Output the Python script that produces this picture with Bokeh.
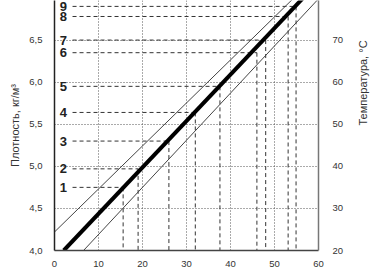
import math
from bokeh.plotting import figure
from bokeh.models import Range1d, LinearAxis, FixedTicker, CustomJSTickFormatter
from bokeh.core.properties import value
from bokeh.embed import file_html
from bokeh.resources import INLINE

# ---- data ----
x_ticks = [0, 10, 20, 30, 40, 50, 60]
rho_ticks = [4.0, 4.5, 5.0, 5.5, 6.0, 6.5, 7.0]
temp_ticks = [20, 30, 40, 50, 60, 70, 80]

# main (thick) line and two bounding (thin) lines, endpoints
main_x = [2.1, 56.5]
main_rho = [4.0, 7.0]
upper_x = [0.0, 54.4]
upper_rho = [4.22, 7.0]
lower_x = [6.6, 60.0]
lower_rho = [4.0, 6.99]

# numbered reading levels: density level and where it meets the main line
level_names = ["1", "2", "3", "4", "5", "6", "7", "8", "9"]
level_rho = [4.75, 4.97, 5.30, 5.64, 5.95, 6.35, 6.50, 6.78, 6.90]
level_x = [15.6, 19.0, 26.0, 32.0, 37.6, 46.0, 48.0, 53.1, 54.9]
label_x = 2.0
dash_start_x = 4.1

FONT = "Liberation Sans"

p = figure(width=378, height=274, output_backend="svg", toolbar_location=None,
           x_range=Range1d(0, 60), y_range=Range1d(4.0, 6.97),
           min_border_left=54, min_border_right=58, min_border_top=0,
           min_border_bottom=24)
p.outline_line_color = None
p.background_fill_color = "white"
p.border_fill_color = "white"

p.extra_y_ranges = {"temp": Range1d(20, 20 + (6.97 - 4.0) * 20)}

# grid
p.xgrid.ticker = FixedTicker(ticks=x_ticks)
p.ygrid.ticker = FixedTicker(ticks=rho_ticks)
for g in (p.xgrid, p.ygrid):
    g.grid_line_color = "#555555"
    g.grid_line_dash = "1 2"
    g.grid_line_width = 1

# bottom axis
xa = p.xaxis[0]
xa.ticker = FixedTicker(ticks=x_ticks)
xa.axis_line_color = "#444444"
xa.axis_line_width = 1.5
xa.major_tick_line_color = None
xa.minor_tick_line_color = None
xa.major_label_standoff = 4
xa.major_label_text_font = FONT
xa.major_label_text_font_size = "9.5px"
xa.major_label_text_color = "#333333"

# left axis
ya = p.yaxis[0]
ya.ticker = FixedTicker(ticks=rho_ticks)
ya.formatter = CustomJSTickFormatter(code="return tick.toFixed(1).replace('.', ',');")
ya.axis_line_color = "#222222"
ya.axis_line_width = 1.5
ya.major_tick_line_color = None
ya.minor_tick_line_color = None
ya.major_label_standoff = 6
ya.major_label_text_font = FONT
ya.major_label_text_font_size = "9.5px"
ya.major_label_text_color = "#333333"
ya.axis_label = "Плотность, кг/м³"
ya.axis_label_text_font = FONT
ya.axis_label_text_font_style = "normal"
ya.axis_label_text_font_size = "11px"
ya.axis_label_text_color = "#333333"
ya.axis_label_standoff = 5

# right axis
ra = LinearAxis(y_range_name="temp", ticker=FixedTicker(ticks=temp_ticks))
ra.axis_line_color = "#777777"
ra.axis_line_width = 1.5
ra.major_tick_line_color = None
ra.minor_tick_line_color = None
ra.major_label_standoff = 8
ra.major_label_text_font = FONT
ra.major_label_text_font_size = "9.5px"
ra.major_label_text_color = "#333333"
ra.axis_label = "Температура, °С"
ra.axis_label_text_font = FONT
ra.axis_label_text_font_style = "normal"
ra.axis_label_text_font_size = "11px"
ra.axis_label_text_color = "#333333"
ra.axis_label_standoff = 17
if "axis_label_orientation" in ra.properties():
    ra.axis_label_orientation = math.pi / 2
p.add_layout(ra, "right")

# dashed reading lines
p.segment(x0=[dash_start_x] * len(level_rho), y0=level_rho, x1=level_x, y1=level_rho,
          line_color="#333333", line_width=1, line_dash="4 3")
p.segment(x0=level_x, y0=level_rho, x1=level_x, y1=[4.0] * len(level_x),
          line_color="#333333", line_width=1, line_dash="4 3")

# thin bounding lines and the thick main line
p.line(upper_x, upper_rho, line_color="#444444", line_width=1)
p.line(lower_x, lower_rho, line_color="#444444", line_width=1)
p.line(main_x, main_rho, line_color="black", line_width=4)

# level numbers
p.text(x=[label_x] * len(level_rho), y=level_rho, text=level_names,
       text_font=value(FONT), text_font_style="bold", text_font_size="13px",
       text_color="#222222", text_align="center", text_baseline="middle")

open("out.html", "w").write(file_html(p, INLINE))
